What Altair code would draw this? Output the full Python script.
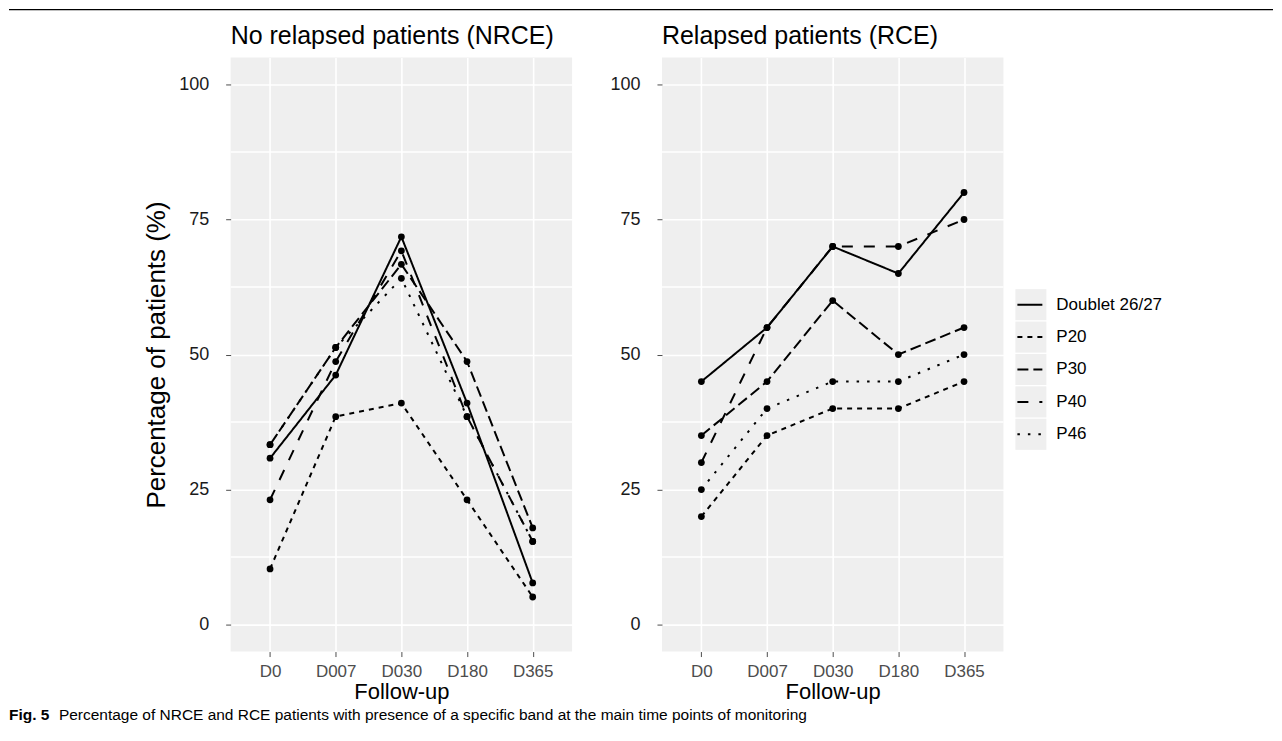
import altair as alt
import pandas as pd

FONT = "Liberation Sans"
CAP_FONT = "'Liberation Sans Narrow', 'Liberation Sans', sans-serif"

times = ["D0", "D007", "D030", "D180", "D365"]
series = ["Doublet 26/27", "P20", "P30", "P40", "P46"]

# No relapsed patients (NRCE)
nrce_doublet = [30.8, 46.2, 71.8, 41.0, 7.7]
nrce_p20 = [10.3, 38.5, 41.0, 23.1, 5.1]
nrce_p30 = [33.3, 51.3, 66.7, 48.7, 17.9]
nrce_p40 = [23.1, 48.7, 69.2, 38.5, 15.4]
nrce_p46 = [33.3, 51.3, 64.1, 38.5, 15.4]

# Relapsed patients (RCE)
rce_doublet = [45, 55, 70, 65, 80]
rce_p20 = [20, 35, 40, 40, 45]
rce_p30 = [35, 45, 60, 50, 55]
rce_p40 = [30, 55, 70, 70, 75]
rce_p46 = [25, 40, 45, 45, 50]

y_ticks = [0, 25, 50, 75, 100]
minor_grid = [12.5, 37.5, 62.5, 87.5]

dash_patterns = [[1, 0], [5, 5], [11, 5], [11, 11], [2.5, 8]]

caption_bold = "Fig. 5"
caption_text = "Percentage of NRCE and RCE patients with presence of a specific band at the main time points of monitoring"

PANEL_W = 342
PANEL_H = 595

one = pd.DataFrame({"a": [0]})


def long_df(values):
    rows = []
    for s, vals in zip(series, values):
        for t, v in zip(times, vals):
            rows.append({"time": t, "series": s, "pct": v})
    return pd.DataFrame(rows)


def panel(values, title, ytitle, extras=None):
    df = long_df(values)
    yscale = alt.Scale(domain=[-5, 105], nice=False, zero=False)
    x = alt.X(
        "time:N",
        sort=times,
        scale=alt.Scale(type="point", padding=0.6, domain=times),
        axis=alt.Axis(
            title="Follow-up",
            titleFontSize=22,
            titleFontWeight="normal",
            titleFont=FONT,
            titleColor="black",
            titlePadding=2,
            labelFont=FONT,
            labelFontSize=17,
            labelColor="#4d4d4d",
            labelPadding=7,
            labelAngle=0,
            tickColor="#4d4d4d",
            tickSize=5,
            domain=False,
            grid=True,
            gridColor="white",
            gridWidth=1.6,
        ),
    )
    y_axis_kwargs = dict(
        values=y_ticks,
        labelFont=FONT,
        labelFontSize=18,
        labelColor="#1a1a1a",
        labelPadding=17,
        tickColor="#4d4d4d",
        tickSize=5,
        domain=False,
        grid=True,
        gridColor="white",
        gridWidth=1.6,
    )
    if ytitle:
        y_axis_kwargs.update(
            title=ytitle,
            titleFont=FONT,
            titleFontSize=26,
            titleFontWeight="normal",
            titleColor="black",
            titlePadding=9,
        )
    else:
        y_axis_kwargs.update(title=None)
    yaxis = alt.Axis(**y_axis_kwargs)
    y = alt.Y("pct:Q", scale=yscale, axis=yaxis)

    grid = (
        alt.Chart(pd.DataFrame({"pct": minor_grid}))
        .mark_rule(color="white", strokeWidth=1.6)
        .encode(y=y)
    )
    base = alt.Chart(df)
    lines = base.mark_line(color="black", strokeWidth=2).encode(
        x=x,
        y=y,
        detail="series:N",
        strokeDash=alt.StrokeDash(
            "series:N",
            scale=alt.Scale(domain=series, range=dash_patterns),
            legend=None,
        ),
    )
    points = base.mark_circle(color="black", size=46, opacity=1).encode(x=x, y=y)
    title_mark = alt.Chart(one).mark_text(
        text=title, font=FONT, fontSize=25, align="left",
        baseline="alphabetic", color="black",
    ).encode(x=alt.value(0), y=alt.value(-14))
    layers = [grid, lines, points, title_mark] + (extras or [])
    return alt.layer(*layers)


top_rule = alt.Chart(one).mark_rule(color="black", strokeWidth=1.2).encode(
    x=alt.value(-222), x2=alt.value(1044), y=alt.value(-48)
)
cap1 = alt.Chart(one).mark_text(
    text=caption_bold, font=CAP_FONT, fontSize=15.5, fontWeight="bold",
    align="left", baseline="middle", color="black",
).encode(x=alt.value(-222), y=alt.value(659))
cap2 = alt.Chart(one).mark_text(
    text=caption_text, font=CAP_FONT, fontSize=15.5,
    align="left", baseline="middle", color="black",
).encode(x=alt.value(-172), y=alt.value(659))

left = panel(
    [nrce_doublet, nrce_p20, nrce_p30, nrce_p40, nrce_p46],
    "No relapsed patients (NRCE)",
    "Percentage of patients (%)",
    extras=[top_rule, cap1, cap2],
).properties(
    width=PANEL_W,
    height=PANEL_H,
    view=alt.ViewBackground(fill="#efefef", strokeWidth=0),
)

right_inner = panel(
    [rce_doublet, rce_p20, rce_p30, rce_p40, rce_p46],
    "Relapsed patients (RCE)",
    None,
)

# Legend (drawn manually to reproduce grey key boxes), placed right of the RCE panel
leg_df = pd.DataFrame({"series": series})
ly_scale = alt.Scale(domain=series, range=[232, 393], paddingInner=0.04, paddingOuter=0)
ly = alt.Y("series:N", sort=series, scale=ly_scale, axis=None)
ly_mid = alt.Y("series:N", sort=series, scale=ly_scale, axis=None, bandPosition=0.5)
leg_box = alt.Chart(leg_df).mark_rect(color="#efefef").encode(
    y=ly, x=alt.value(354), x2=alt.value(385)
)
leg_line = alt.Chart(leg_df).mark_rule(color="black", strokeWidth=2).encode(
    y=ly_mid,
    x=alt.value(356),
    x2=alt.value(381),
    strokeDash=alt.StrokeDash(
        "series:N", scale=alt.Scale(domain=series, range=dash_patterns), legend=None
    ),
)
leg_text = alt.Chart(leg_df).mark_text(
    font=FONT, fontSize=17, align="left", baseline="middle", color="black"
).encode(y=ly_mid, x=alt.value(395), text="series:N")
legend_layer = alt.layer(leg_box, leg_line, leg_text)

right = (
    alt.layer(right_inner, legend_layer)
    .resolve_scale(y="independent")
    .properties(
        width=PANEL_W,
        height=PANEL_H,
        view=alt.ViewBackground(fill="#efefef", strokeWidth=0),
    )
)

chart = (
    alt.hconcat(left, right, spacing=90, bounds="flush")
    .properties(padding=0)
    .configure_view(strokeWidth=0)
)

chart.save("out.html", embed_options={"renderer": "svg", "actions": False})
